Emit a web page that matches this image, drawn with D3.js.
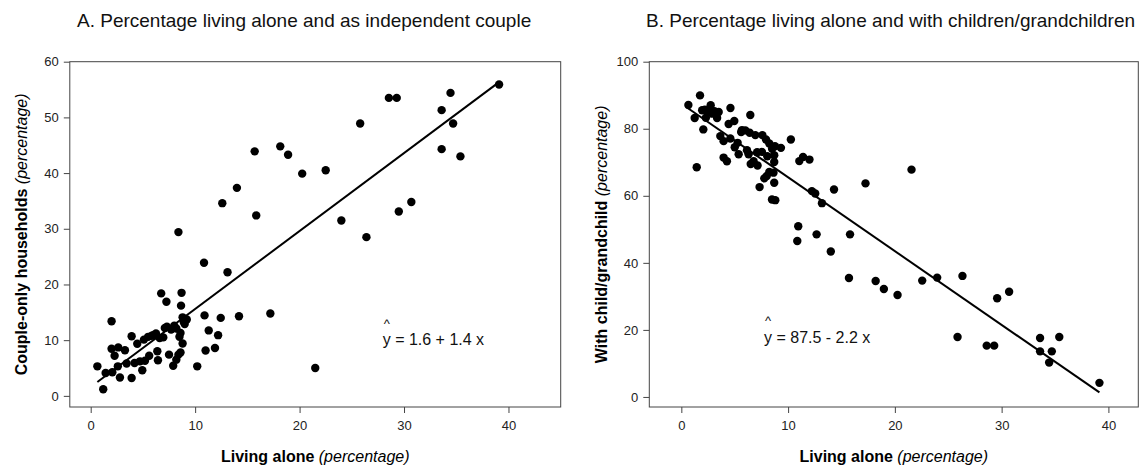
<!DOCTYPE html>
<html><head><meta charset="utf-8">
<script src="https://cdn.jsdelivr.net/npm/d3@7/dist/d3.min.js"></script>
<style>
html,body{margin:0;padding:0;background:#fff;}
svg{display:block;font-family:Arial,"Liberation Sans",sans-serif;}
</style></head><body>
<svg id="chart" width="1141" height="466"></svg>
<script>
// Panel A: living alone (x) vs couple-only households (y)
const aliveA = [39.1,34.45,28.55,29.3,33.6,34.7,25.8,33.6,35.4,18.15,18.9,15.7,20.25,22.5,14.0,12.6,15.85,30.7,29.5,24.0,26.4,8.4,10.85,13.1,6.75,8.7,7.25,8.65,17.2,10.9,14.2,12.45,2.0,8.8,9.2,11.3,12.2,21.5,10.2,11.0,11.9,0.64,1.2,
  3.92,4.46,5.1,5.5,5.84,6.25,6.95,7.3,7.7,8.2,8.5,8.8,8.0,8.6,2.0,2.64,3.28,2.29,3.44,4.2,4.72,4.94,5.2,5.6,6.38,6.44,7.5,8.4,8.2,7.9,2.6,2.07,1.43,2.8,3.92,8.6,9.0,8.9,6.0,6.6,7.1];
const coupleA = [55.9,54.4,53.5,53.5,51.3,48.9,48.9,44.3,43.0,44.8,43.3,43.9,39.9,40.5,37.35,34.6,32.4,34.8,33.1,31.5,28.5,29.4,23.9,22.2,18.4,18.5,16.9,16.2,14.8,14.45,14.3,14.0,13.4,14.1,13.7,11.75,10.9,5.0,5.3,8.15,8.6,5.3,1.2,
  10.7,9.35,10.1,10.6,10.8,11.2,10.5,12.4,11.9,12.1,10.6,9.4,12.6,11.3,8.45,8.7,8.2,7.2,5.8,5.9,6.2,4.6,6.3,7.2,8.0,6.4,7.4,7.4,6.5,5.4,5.3,4.25,4.1,3.3,3.2,7.8,12.9,13.3,10.9,10.4,12.2];
// Panel B: living alone (x) vs with child/grandchild (y)
const aliveB = [0.66,1.25,1.75,1.44,2.06,1.95,2.2,2.5,2.75,3.1,3.35,3.5,2.3,2.9,4.6,6.46,4.96,4.43,5.68,5.6,3.65,3.96,4.59,5.27,5.37,6.15,6.3,3.96,4.27,6.4,6.93,7.59,7.93,8.24,8.77,9.33,10.26,6.77,7.14,7.55,8.05,8.7,8.7,7.33,7.77,8.0,8.24,8.63,8.7,8.49,8.8,11.05,11.4,12.0,12.23,12.54,13.17,14.3,10.95,10.86,12.67,14.0,15.8,15.7,17.25,18.2,18.97,20.25,21.56,22.56,23.96,26.33,25.87,28.6,29.3,29.58,30.7,33.6,33.6,34.7,34.45,35.4,39.16,6.0,7.1,5.0,6.5,8.5];
const childB = [87.1,83.2,89.95,68.5,79.8,85.5,85.7,85.0,87.0,85.2,83.2,85.0,83.3,84.5,86.2,84.1,82.3,81.4,79.6,79.0,77.8,76.3,77.1,75.8,72.4,73.6,72.4,71.4,70.3,78.8,78.1,78.1,76.8,75.6,74.8,74.3,76.8,70.3,69.05,73.1,71.8,72.1,70.1,62.6,65.2,65.9,67.1,66.9,63.9,58.9,58.7,70.35,71.6,70.8,61.4,60.7,57.8,61.9,50.9,46.5,48.5,43.4,48.5,35.5,63.7,34.6,32.2,30.4,67.8,34.7,35.6,36.1,17.9,15.3,15.3,29.45,31.4,17.6,13.6,13.6,10.25,17.9,4.2,79.5,73.0,74.5,69.5,74.0];

const xTicks = [0,10,20,30,40];
const yTicksA = [0,10,20,30,40,50,60];
const yTicksB = [0,20,40,60,80,100];
const fitA = {a:1.6, b:1.4};
const fitB = {a:87.5, b:-2.2};
const titleA = "A.  Percentage living alone and as independent couple";
const titleB = "B.  Percentage living alone and with children/grandchildren";
const yLabelA = "Couple-only households";
const yLabelB = "With child/grandchild";
const xLabel = "Living alone";
const unitLabel = "(percentage)";
const eqA = "y = 1.6 + 1.4 x";
const eqB = "y = 87.5 - 2.2 x";

const svg = d3.select("#chart");
const axisColor = "#444";

function panel(cfg){
  const g = svg.append("g");
  const x = d3.scaleLinear().domain(cfg.xDomain).range(cfg.xRange);
  const y = d3.scaleLinear().domain(cfg.yDomain).range(cfg.yRange);
  // frame
  g.append("rect").attr("x",cfg.xRange[0]).attr("y",cfg.yRange[1])
    .attr("width",cfg.xRange[1]-cfg.xRange[0]).attr("height",cfg.yRange[0]-cfg.yRange[1])
    .attr("fill","none").attr("stroke",axisColor).attr("stroke-width",1);
  const xa = g.append("g").attr("transform",`translate(0,${cfg.yRange[0]})`)
    .call(d3.axisBottom(x).tickValues(xTicks).tickSize(6).tickPadding(8).tickFormat(d3.format("d")));
  const ya = g.append("g").attr("transform",`translate(${cfg.xRange[0]},0)`)
    .call(d3.axisLeft(y).tickValues(cfg.yTicks).tickSize(6).tickPadding(5).tickFormat(d3.format("d")));
  [xa,ya].forEach(a=>{
    a.select(".domain").remove();
    a.selectAll(".tick line").attr("stroke",axisColor);
    a.selectAll(".tick text").attr("fill","#222").style("font-size","13px").style("font-family","Arial, 'Liberation Sans', sans-serif");
  });
  // regression line
  const xmin = d3.min(cfg.xs), xmax = d3.max(cfg.xs);
  g.append("line")
    .attr("x1",x(xmin)).attr("y1",y(cfg.fit.a+cfg.fit.b*xmin))
    .attr("x2",x(xmax)).attr("y2",y(cfg.fit.a+cfg.fit.b*xmax))
    .attr("stroke","#000").attr("stroke-width",2);
  // points
  g.selectAll("circle").data(cfg.xs.map((v,i)=>[v,cfg.ys[i]])).join("circle")
    .attr("cx",d=>x(d[0])).attr("cy",d=>y(d[1])).attr("r",4.2).attr("fill","#000");
  // title
  g.append("text").attr("x",cfg.titleX).attr("y",27).attr("fill","#111")
    .style("font-size","19px").text(cfg.title);
  // x label
  const xl = g.append("text").attr("x",(cfg.xRange[0]+cfg.xRange[1])/2).attr("y",462)
    .attr("text-anchor","middle").style("font-size","16px").attr("fill","#000");
  xl.append("tspan").style("font-weight","bold").text(xLabel+" ");
  xl.append("tspan").style("font-style","italic").text(unitLabel);
  // y label
  const yl = g.append("text").attr("transform",`translate(${cfg.yLabelX},${(cfg.yRange[0]+cfg.yRange[1])/2}) rotate(-90)`)
    .attr("text-anchor","middle").style("font-size","16px").attr("fill","#000");
  yl.append("tspan").style("font-weight","bold").text(cfg.yLabel+" ");
  yl.append("tspan").style("font-style","italic").text(unitLabel);
  // equation with hat over y
  g.append("text").attr("x",cfg.eqX+1).attr("y",cfg.eqY-17.5)
    .style("font-size","13px").attr("fill","#111").text("^");
  g.append("text").attr("x",cfg.eqX).attr("y",cfg.eqY)
    .style("font-size","16px").attr("fill","#111").text(cfg.eq);
}

panel({xDomain:[-2,45], yDomain:[-2,60], xRange:[69.8,560.7], yRange:[407,61.7],
  yTicks:yTicksA, xs:aliveA, ys:coupleA, fit:fitA, title:titleA, titleX:77,
  yLabel:yLabelA, yLabelX:27, eq:eqA, eqX:382.7, eqY:345});
panel({xDomain:[-3,42.8], yDomain:[-3,100], xRange:[649.3,1138.3], yRange:[407,61.7],
  yTicks:yTicksB, xs:aliveB, ys:childB, fit:fitB, title:titleB, titleX:646,
  yLabel:yLabelB, yLabelX:607, eq:eqB, eqX:764, eqY:342.7});
</script>
</body></html>
